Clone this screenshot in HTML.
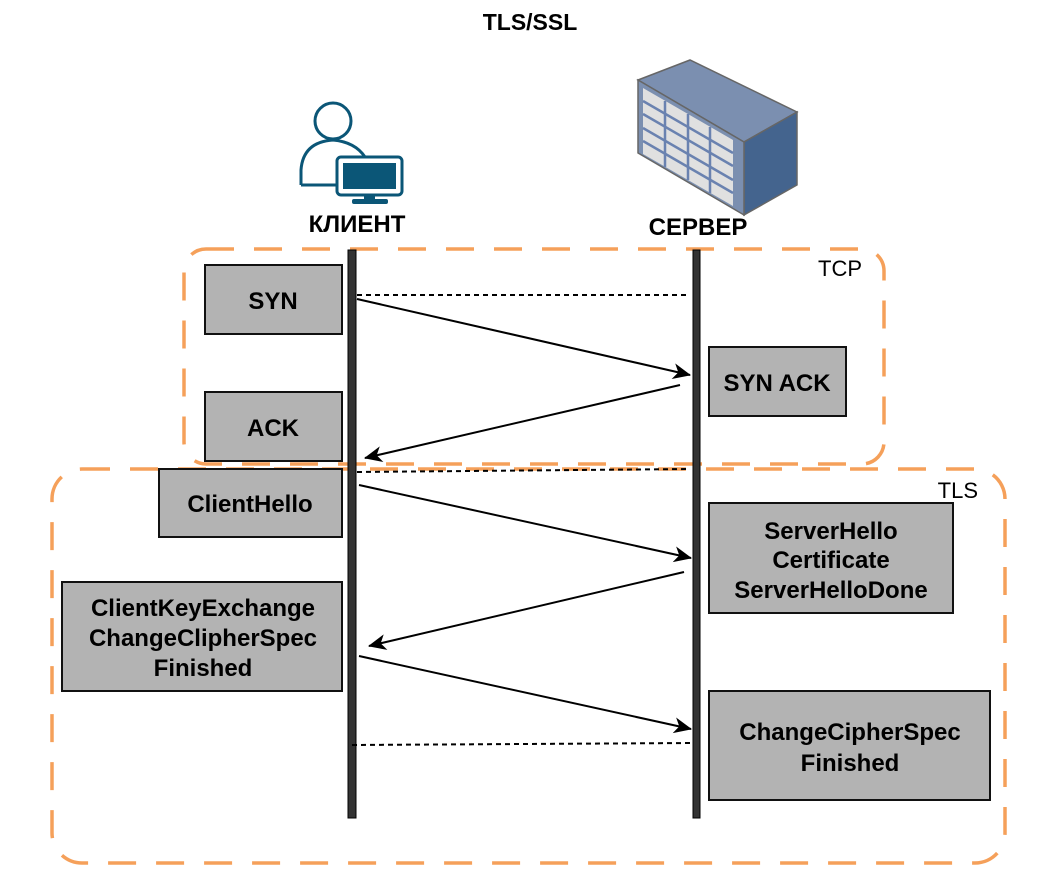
<!DOCTYPE html>
<html><head><meta charset="utf-8"><style>
html,body{margin:0;padding:0;background:#fff;}
svg{display:block;font-family:"Liberation Sans",Arial,sans-serif;}
.b{fill:#b3b3b3;stroke:#111;stroke-width:2;}
.t{font-weight:bold;font-size:24px;text-anchor:middle;fill:#000;}
.o{fill:none;stroke:#F5A05A;stroke-width:3.5;stroke-dasharray:28 20;}
</style></head><body>
<svg width="1040" height="878" viewBox="0 0 1040 878">
<defs><marker id="a" markerWidth="20" markerHeight="20" refX="17" refY="8" orient="auto" markerUnits="userSpaceOnUse"><path d="M0,0 L18,8 L0,16 L5,8 Z" fill="#000"/></marker></defs>
<text x="530" y="30" font-size="23" font-weight="bold" text-anchor="middle">TLS/SSL</text>
<!-- client icon -->
<g fill="none" stroke="#0b5677" stroke-width="3">
<circle cx="333" cy="121" r="18"/>
<path d="M301,185 L301,170 Q303,142 333,140 Q355,142 365,157"/>
<line x1="301" y1="185" x2="337" y2="185"/>
<rect x="337" y="157" width="65" height="38" rx="4"/>
</g>
<rect x="343" y="163" width="53" height="26" fill="#0b5677"/>
<rect x="364" y="195" width="11" height="5" fill="#0b5677"/>
<rect x="352" y="199" width="36" height="5" rx="2" fill="#0b5677"/>
<text x="357" y="232" font-size="24" font-weight="bold" text-anchor="middle">КЛИЕНТ</text>
<!-- server icon -->
<polygon points="638,80 690,60 797,112 744,142" fill="#7b8fb0" stroke="#666" stroke-width="1.5"/>
<polygon points="744,142 797,112 797,185 744,215" fill="#44648e" stroke="#666" stroke-width="1.5"/>
<polygon points="638,80 744,142 744,215 638,153" fill="#7b8fb0" stroke="#666" stroke-width="1.5"/>
<polygon points="643,88 733,140 733,206 643,154" fill="#e0e0e0"/>
<g stroke="#6a82b0" stroke-width="2.5">
<line x1="643" y1="101" x2="733" y2="153"/><line x1="643" y1="114" x2="733" y2="166"/><line x1="643" y1="128" x2="733" y2="180"/><line x1="643" y1="141" x2="733" y2="193"/>
<line x1="665" y1="101" x2="665" y2="167"/><line x1="688" y1="114" x2="688" y2="180"/><line x1="710" y1="127" x2="710" y2="193"/>
</g>
<text x="698" y="235" font-size="24" font-weight="bold" text-anchor="middle">СЕРВЕР</text>
<!-- groups -->
<rect class="o" x="184" y="249" width="700" height="215" rx="22"/>
<text x="862" y="276" font-size="22" text-anchor="end">TCP</text>
<rect class="o" x="52" y="469" width="953" height="394" rx="30"/>
<text x="978" y="498" font-size="22" text-anchor="end">TLS</text>
<!-- lifelines -->
<rect x="348" y="250" width="8" height="568" fill="#333" stroke="#000"/>
<rect x="693" y="250" width="7" height="568" fill="#333" stroke="#000"/>
<!-- boxes -->
<rect class="b" x="205" y="265" width="137" height="69"/><text class="t" x="273" y="309">SYN</text>
<rect class="b" x="205" y="392" width="137" height="69"/><text class="t" x="273" y="436">ACK</text>
<rect class="b" x="709" y="347" width="137" height="69"/><text class="t" x="777" y="391">SYN ACK</text>
<rect class="b" x="159" y="469" width="183" height="68"/><text class="t" x="250" y="512">ClientHello</text>
<rect class="b" x="709" y="503" width="244" height="110"/><text class="t" x="831" y="539">ServerHello</text><text class="t" x="831" y="568">Certificate</text><text class="t" x="831" y="598">ServerHelloDone</text>
<rect class="b" x="62" y="582" width="280" height="109"/><text class="t" x="203" y="616">ClientKeyExchange</text><text class="t" x="203" y="646">ChangeClipherSpec</text><text class="t" x="203" y="676">Finished</text>
<rect class="b" x="709" y="691" width="281" height="109"/><text class="t" x="850" y="740">ChangeCipherSpec</text><text class="t" x="850" y="771">Finished</text>
<!-- connectors -->
<g stroke="#000" stroke-width="2" fill="none">
<line x1="357" y1="295" x2="690" y2="295" stroke-dasharray="5 4"/>
<line x1="357" y1="472" x2="690" y2="469" stroke-dasharray="5 4"/>
<line x1="352" y1="745" x2="693" y2="743" stroke-dasharray="5 4"/>
<line x1="357" y1="299" x2="690" y2="375" marker-end="url(#a)"/>
<line x1="680" y1="385" x2="365" y2="458" marker-end="url(#a)"/>
<line x1="359" y1="485" x2="691" y2="558" marker-end="url(#a)"/>
<line x1="684" y1="572" x2="369" y2="646" marker-end="url(#a)"/>
<line x1="359" y1="656" x2="691" y2="729" marker-end="url(#a)"/>
</g>
</svg>
</body></html>
